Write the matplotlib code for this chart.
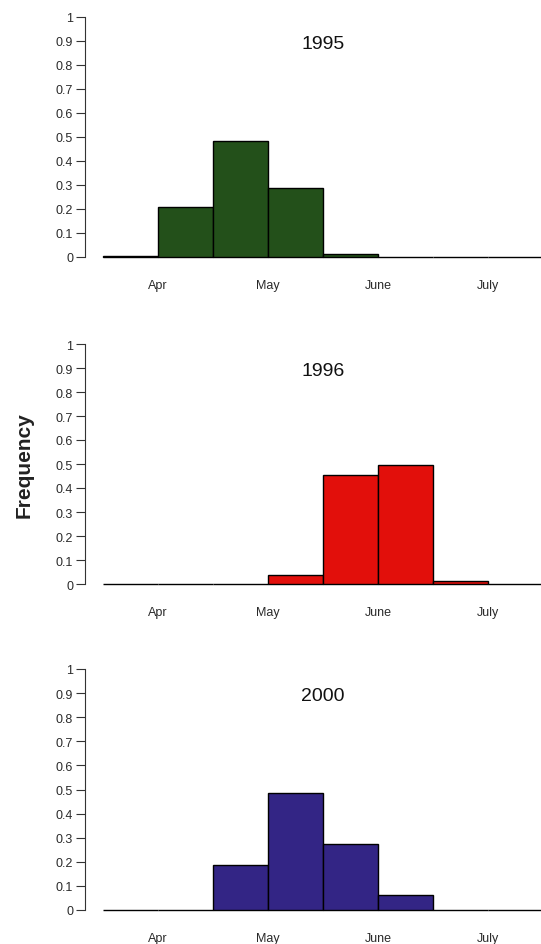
import numpy as np
import matplotlib.pyplot as plt

plt.rcParams['font.family'] = ['Liberation Sans', 'DejaVu Sans']

# half-month bins, edges 0..8 ; month labels sit on the bin edges
bin_edges = np.arange(0, 9)
month_pos = [1, 3, 5, 7]
month_labels = ['Apr', 'May', 'June', 'July']

years = ['1995', '1996', '2000']
freq_1995 = [0.005, 0.208, 0.484, 0.286, 0.014, 0.0, 0.0, 0.0]
freq_1996 = [0.0, 0.0, 0.0, 0.036, 0.454, 0.497, 0.014, 0.0]
freq_2000 = [0.0, 0.0, 0.187, 0.485, 0.273, 0.064, 0.0, 0.0]
colors = ['#23501a', '#e20f0b', '#332585']

W, H = 541, 945
fig = plt.figure(figsize=(W / 100, H / 100), dpi=100)

# panel tops/bottoms in pixels (value 1 and value 0)
panels = [(18, 258), (345, 585), (670, 911)]
ax_left, ax_right = 85, 541
txt_col = '#2a2a2a'

for (top, bot), year, freq, col in zip(panels, years, [freq_1995, freq_1996, freq_2000], colors):
    ax = fig.add_axes([ax_left / W, 1 - bot / H, (ax_right - ax_left) / W, (bot - top) / H])
    ax.bar(bin_edges[:-1], freq, width=1, align='edge', color=col,
           edgecolor='black', linewidth=1, clip_on=False)
    ax.set_xlim(-0.33, 7.96)
    ax.set_ylim(0, 1)
    ax.set_yticks(np.arange(0, 1.01, 0.1))
    ax.set_yticklabels(['0'] + ['%.1f' % v for v in np.arange(0.1, 0.95, 0.1)] + ['1'])
    ax.set_xticks(month_pos)
    ax.set_xticklabels(month_labels)
    ax.tick_params(axis='x', length=0, pad=16, labelsize=9, labelcolor=txt_col)
    ax.tick_params(axis='y', length=6.5, width=0.8, pad=2, labelsize=9,
                   labelcolor=txt_col, color='#333333')
    for s in ['top', 'right', 'bottom']:
        ax.spines[s].set_visible(False)
    ax.spines['left'].set_linewidth(0.8)
    ax.spines['left'].set_color('#333333')
    ax.text(4, 0.89, year, ha='center', va='center', fontsize=14, color='#111111')
    ax.set_facecolor('none')

fig.text(24 / W, 1 - 465 / H, 'Frequency', rotation=90, ha='center', va='center',
         fontsize=15, fontweight='bold', color='#222222')

fig.savefig('out.png', dpi=100)
